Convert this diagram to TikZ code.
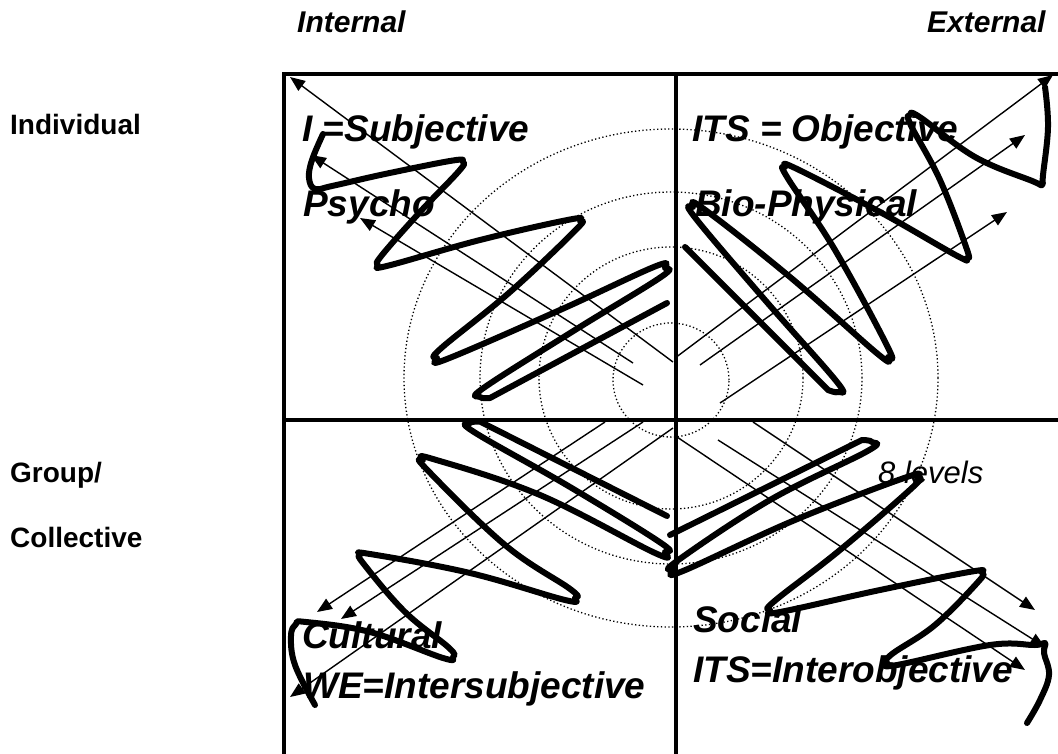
\documentclass[tikz,border=0pt]{standalone}
\usepackage{fontspec}
\setmainfont{Liberation Sans}
\usetikzlibrary{arrows.meta}
\begin{document}
\begin{tikzpicture}[x=1pt,y=-1pt,
  frame/.style={line width=4pt},
  ring/.style={line width=1.3pt, dash pattern=on 1.3pt off 2.4pt},
  thinarrow/.style={line width=1.4pt,-{Triangle[length=15pt,width=12pt]}},
  squig/.style={line width=6pt, line cap=round, line join=round},
  head/.style={font=\fontsize{30}{34}\selectfont\bfseries\itshape, inner sep=0pt, anchor=base west},
  side/.style={font=\fontsize{28}{32}\selectfont\bfseries, inner sep=0pt, anchor=base west},
  quad/.style={font=\fontsize{37}{40}\selectfont\bfseries\itshape, inner sep=0pt, anchor=base west},
  lev/.style={font=\fontsize{31}{34}\selectfont\itshape, inner sep=0pt, anchor=base west},
]
\useasboundingbox (0,0) rectangle (1058,754);

% concentric dotted rings
\coordinate (ctr) at (671,378);
\draw[ring] (ctr) ellipse [x radius=267pt, y radius=249pt];
\draw[ring] (ctr) ellipse [x radius=191pt, y radius=186pt];
\draw[ring] (ctr) ellipse [x radius=132pt, y radius=131pt];
\draw[ring] (671,380) ellipse [x radius=58pt, y radius=57pt];

% frame
\coordinate (tl) at (284,74.5);
\coordinate (tr) at (1058,74.5);
\coordinate (bl) at (284,754);
\coordinate (mt) at (675.5,74.5);
\coordinate (mb) at (675.5,754);
\coordinate (ml) at (284,419.5);
\coordinate (mr) at (1058,419.5);
\draw[frame] (bl) -- (tl) -- (tr);
\draw[frame] (mt) -- (mb);
\draw[frame] (ml) -- (mr);

% side labels
\node[head] (internal) at (297,33) {Internal};
\node[head] (external) at (927,33) {External};
\node[side] (individual) at (10,135) {Individual};
\node[side] (group) at (10,482) {Group/};
\node[side] (collective) at (10,547) {Collective};

% quadrant labels
\node[quad] (isub) at (302,142) {I =Subjective};
\node[quad] (psycho) at (303,217) {Psycho};
\node[quad] (itsobj) at (692,142) {ITS = Objective};
\node[quad] (bio) at (695,217) {Bio-Physical};
\node[quad] (cult) at (302,648) {Cultural};
\node[quad] (we) at (303,698) {WE=Intersubjective};
\node[quad] (social) at (693,632) {Social};
\node[quad] (itsint) at (693,682) {ITS=Interobjective};
\node[lev] (levels) at (878,483) {8 levels};

% thin arrows, upper left
\coordinate (a1s) at (673,362); \coordinate (a1e) at (290,77);
\coordinate (a2s) at (633,363); \coordinate (a2e) at (311,155);
\coordinate (a3s) at (643,385); \coordinate (a3e) at (360,218);
\draw[thinarrow] (a1s) -- (a1e);
\draw[thinarrow] (a2s) -- (a2e);
\draw[thinarrow] (a3s) -- (a3e);
% upper right
\coordinate (b1s) at (675,358); \coordinate (b1e) at (1053,75);
\coordinate (b2s) at (700,365); \coordinate (b2e) at (1025,135);
\coordinate (b3s) at (720,403); \coordinate (b3e) at (1007,212);
\draw[thinarrow] (b1s) -- (b1e);
\draw[thinarrow] (b2s) -- (b2e);
\draw[thinarrow] (b3s) -- (b3e);
% lower left
\coordinate (c1s) at (605,422); \coordinate (c1e) at (317,612);
\coordinate (c2s) at (643,422); \coordinate (c2e) at (341,619);
\coordinate (c3s) at (673,428); \coordinate (c3e) at (290,697);
\draw[thinarrow] (c1s) -- (c1e);
\draw[thinarrow] (c2s) -- (c2e);
\draw[thinarrow] (c3s) -- (c3e);
% lower right
\coordinate (d1s) at (753,422); \coordinate (d1e) at (1035,610);
\coordinate (d2s) at (718,440); \coordinate (d2e) at (1045,647);
\coordinate (d3s) at (677,437); \coordinate (d3e) at (1025,670);
\draw[thinarrow] (d1s) -- (d1e);
\draw[thinarrow] (d2s) -- (d2e);
\draw[thinarrow] (d3s) -- (d3e);

% thick squiggles
\draw[squig] plot[smooth, tension=0.65] coordinates {
  (323,134) (312,160) (309,178) (315,189) (332,186) (385,174)
  (453,160.5) (463,162) (459,171) (420,212)
  (381.5,255.7) (378,265) (388,265.7) (480,240)
  (570,219.5) (580,221) (575.7,230) (510,292)
  (440.6,348.7) (437,358) (447,359) (560,310)
  (655,266.5) (665,268) (661,277) (575,330)
  (483.8,387.8) (480,397) (490,398)} -- (667,303);

\draw[squig] (685,247) -- plot[smooth, tension=0.65] coordinates {
  (828,390) (838,392) (837,382) (765,300)
  (694.6,217) (693,207) (703,208.3) (790,277)
  (878.3,354.4) (888,357) (887.7,347) (835,250)
  (787,177) (785,167) (795,168) (880,212)
  (957,255.8) (967,258) (966.4,248) (940,180)
  (910.7,125) (910,115) (919.7,117) (975,157)
  (1032.7,181.2) (1042,185) (1043,175) (1048,127) (1045,87)};

\draw[squig] (667,516) -- plot[smooth, tension=0.65] coordinates {
  (480,421.6) (470,423) (474,432) (570,487)
  (661,543) (665,552) (655,553) (540,495)
  (433,459) (423,460) (426.7,469.3) (505,545)
  (570.4,589.2) (575,598) (565,600) (470,573)
  (370,554) (360,555) (364,564.3) (405,612)
  (449,647.8) (453,657) (443,658) (370,632)
  (306,622) (296,624) (291,636) (295,665) (315,705)};

\draw[squig] (670,535) -- plot[smooth, tension=0.65] coordinates {
  (862,440) (872,442) (867.6,451) (770,500)
  (677,561) (673,570) (683,571) (795,520)
  (907,477) (917,478) (913,487) (840,550)
  (774.6,601) (770,610) (780,612) (880,590)
  (972,571.5) (982,573) (978,582) (935,625)
  (892,654) (887,663) (897,665) (990,645)
  (1035,645) (1045,643) (1044,653) (1049,675) (1040,700) (1027,723)};
\end{tikzpicture}
\end{document}
